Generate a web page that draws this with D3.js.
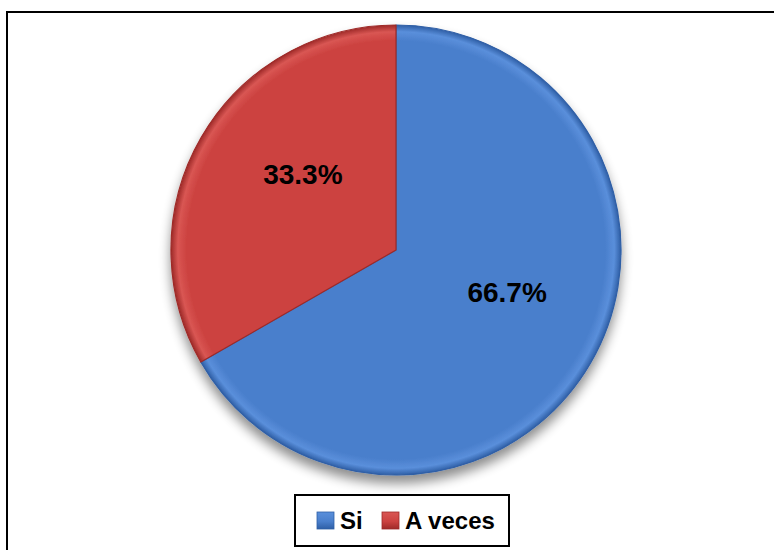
<!DOCTYPE html>
<html>
<head>
<meta charset="utf-8">
<script src="https://cdn.jsdelivr.net/npm/d3@7"></script>
<style>
  body { margin: 0; background: #fff; }
  svg { display: block; font-family: "Liberation Sans", Arial, sans-serif; }
</style>
</head>
<body>
<div id="chart"></div>
<script>
var categories = ['Si', 'A veces'];
var values = [66.7, 33.3];
var colors = ['#4a7fcc', '#cc4240'];
var darkColors = ['#2f5fa6', '#9e2a28'];
var lightColors = ['#5a8fdb', '#d95653'];

var width = 774, height = 550;
var cx = 396, cy = 250, radius = 225;

var svg = d3.select('#chart').append('svg')
    .attr('width', width)
    .attr('height', height);

// outer frame
svg.append('rect')
    .attr('x', 7).attr('y', 12)
    .attr('width', 800).attr('height', 600)
    .attr('fill', 'none')
    .attr('stroke', '#000')
    .attr('stroke-width', 2);

var defs = svg.append('defs');

var shadow = defs.append('filter')
    .attr('id', 'shadow')
    .attr('x', '-20%').attr('y', '-20%')
    .attr('width', '140%').attr('height', '150%');
shadow.append('feGaussianBlur').attr('in', 'SourceAlpha').attr('stdDeviation', 6);
shadow.append('feOffset').attr('dx', 0).attr('dy', 8).attr('result', 'blur');
shadow.append('feComponentTransfer').append('feFuncA').attr('type', 'linear').attr('slope', 0.45);
var merge = shadow.append('feMerge');
merge.append('feMergeNode');
merge.append('feMergeNode').attr('in', 'SourceGraphic');

categories.forEach(function (c, i) {
    // gradient centred on the pie centre (group coordinates)
    var g = defs.append('radialGradient')
        .attr('id', 'grad' + i)
        .attr('gradientUnits', 'userSpaceOnUse')
        .attr('cx', 0).attr('cy', 0).attr('r', radius);
    g.append('stop').attr('offset', '0%').attr('stop-color', colors[i]);
    g.append('stop').attr('offset', '93%').attr('stop-color', colors[i]);
    g.append('stop').attr('offset', '97%').attr('stop-color', lightColors[i]);
    g.append('stop').attr('offset', '100%').attr('stop-color', darkColors[i]);

    var lg = defs.append('linearGradient')
        .attr('id', 'leg' + i)
        .attr('x1', 0).attr('y1', 0).attr('x2', 0).attr('y2', 1);
    lg.append('stop').attr('offset', '0%').attr('stop-color', lightColors[i]);
    lg.append('stop').attr('offset', '55%').attr('stop-color', colors[i]);
    lg.append('stop').attr('offset', '100%').attr('stop-color', darkColors[i]);
});

var pie = d3.pie().value(function (d) { return d; }).sort(null);
var arc = d3.arc().innerRadius(0).outerRadius(radius);
var labelArc = d3.arc().innerRadius(118).outerRadius(118);

var pieGroup = svg.append('g')
    .attr('transform', 'translate(' + cx + ',' + cy + ')');

var arcs = pie(values);

var slices = pieGroup.append('g').attr('filter', 'url(#shadow)');
slices.selectAll('path')
    .data(arcs)
    .enter()
    .append('path')
    .attr('d', arc)
    .attr('fill', function (d, i) { return 'url(#grad' + i + ')'; })
    .attr('stroke', function (d, i) { return darkColors[i]; })
    .attr('stroke-width', 1.2)
    .attr('stroke-linejoin', 'round');

pieGroup.selectAll('.label')
    .data(arcs)
    .enter()
    .append('text')
    .attr('class', 'label')
    .attr('transform', function (d) {
        var c = labelArc.centroid(d);
        return 'translate(' + (c[0] + 9) + ',' + (c[1] - 17) + ')';
    })
    .attr('text-anchor', 'middle')
    .attr('dy', '0.36em')
    .attr('font-size', 28)
    .attr('font-weight', 'bold')
    .attr('fill', '#000')
    .text(function (d) { return d.data.toFixed(1) + '%'; });

// legend
var legend = svg.append('g');
legend.append('rect')
    .attr('x', 295).attr('y', 495)
    .attr('width', 214).attr('height', 51)
    .attr('fill', '#fff')
    .attr('stroke', '#000')
    .attr('stroke-width', 2);

var legendX = [317, 382];
var items = legend.selectAll('.item')
    .data(categories)
    .enter()
    .append('g')
    .attr('class', 'item')
    .attr('transform', function (d, i) { return 'translate(' + legendX[i] + ',512)'; });

items.append('rect')
    .attr('width', 17).attr('height', 17)
    .attr('fill', function (d, i) { return 'url(#leg' + i + ')'; })
    .attr('stroke', function (d, i) { return darkColors[i]; })
    .attr('stroke-width', 0.8);

items.append('text')
    .attr('x', 23).attr('y', 17)
    .attr('font-size', 24)
    .attr('font-weight', 'bold')
    .attr('fill', '#000')
    .text(function (d) { return d; });
</script>
</body>
</html>
